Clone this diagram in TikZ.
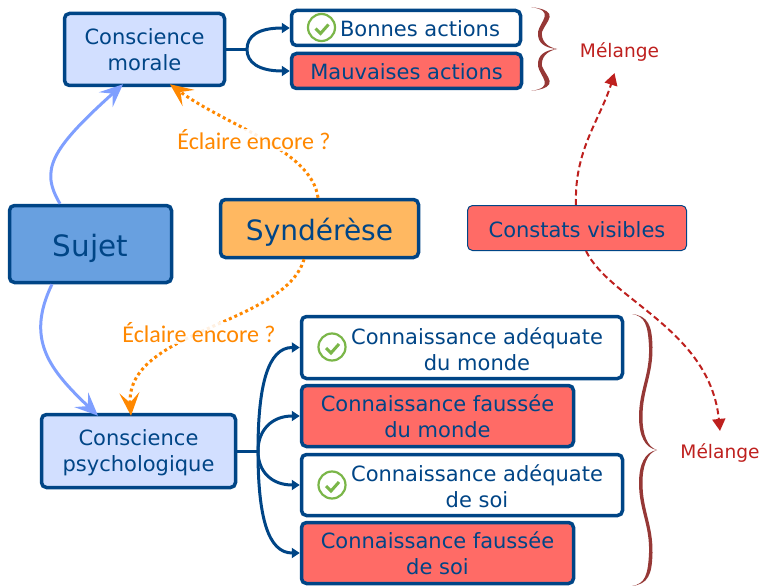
\documentclass[tikz,border=0pt]{standalone}
\usepackage{fontspec}
\setmainfont{DejaVu Sans}
\newfontfamily\eclairefont{Carlito}
\usetikzlibrary{arrows.meta}
\definecolor{bordure}{RGB}{0,69,134}
\definecolor{bleuclair}{RGB}{210,223,255}
\definecolor{bleusujet}{RGB}{104,160,224}
\definecolor{bleufleche}{RGB}{127,159,255}
\definecolor{orangebox}{RGB}{255,184,97}
\definecolor{orangeligne}{RGB}{255,136,0}
\definecolor{rouge}{RGB}{255,107,102}
\definecolor{rougeligne}{RGB}{190,32,30}
\definecolor{brun}{RGB}{150,56,54}
\definecolor{vert}{RGB}{122,182,72}
\newcommand{\deuxlignes}[2]{\hspace*{30pt}\begin{tabular}{@{}c@{}}#1\\#2\end{tabular}}
\tikzset{
  boite/.style={draw=bordure,line width=3.5pt,rounded corners=5pt,text=bordure,font=\fontsize{21}{26}\selectfont,inner sep=0pt},
  uneligne/.style={text height=18pt,text depth=0pt},
  deuxcentre/.style={align=center,text depth=-2pt},
  lien/.style={draw=bordure,line width=3pt},
  lienfin/.style={lien,-{Triangle[length=8pt,width=10pt]}},
  sujetfleche/.style={draw=bleufleche,line width=3pt,-{Stealth[length=23pt,width=20pt,inset=9pt]}},
  eclaire/.style={draw=orangeligne,line width=3pt,dash pattern=on 3pt off 3pt,-{Stealth[length=23pt,width=20pt,inset=10pt]}},
  eclairetexte/.style={text=orangeligne,font=\eclairefont\fontsize{24}{28}\selectfont,fill=white,fill opacity=.88,text opacity=1,inner sep=1pt},
  melange/.style={draw=rougeligne,line width=2pt,dash pattern=on 6pt off 3.5pt,-{Triangle[length=12pt,width=13pt]}},
  melangetexte/.style={text=rougeligne,font=\fontsize{18.6}{22}\selectfont,inner sep=0pt},
  accolade/.style={fill=brun},
  okmark/.style={circle,draw=vert,line width=2.2pt,fill=white,minimum size=27pt,inner sep=0pt,
    path picture={\draw[vert,line width=3pt] ([shift={(-6pt,-1pt)}]path picture bounding box.center) -- ++(5pt,-5pt) -- ++(8pt,9pt);}}
}
\begin{document}
\begin{tikzpicture}[x=1pt,y=1pt,yscale=-1,xscale=1]
\useasboundingbox (0,0) rectangle (761,586);

% Boxes
\node [boite,deuxcentre,text depth=-4pt,fill=bleuclair,minimum width=160pt,minimum height=72pt] (morale) at (144.5,49.5) {Conscience\\morale};
\node [boite,uneligne,fill=white,minimum width=229pt,minimum height=35pt] (bonnes) at (406,28) {\hspace*{28pt}Bonnes actions};
\node [boite,uneligne,fill=rouge,minimum width=230pt,minimum height=35pt] (mauvaises) at (406.5,71) {Mauvaises actions};
\node [boite,fill=bleusujet,minimum width=162pt,minimum height=77pt,font=\fontsize{29.4}{34}\selectfont,text height=24pt,text depth=0pt] (sujet) at (90.5,244) {Sujet};
\node [boite,fill=orangebox,minimum width=198pt,minimum height=58pt,font=\fontsize{28}{34}\selectfont,text height=23pt,text depth=0pt] (synderese) at (319.5,228.5) {Syndérèse};
\node [boite,uneligne,fill=rouge,line width=1pt,minimum width=219pt,minimum height=45pt] (constats) at (577,228) {Constats visibles};
\node [boite,deuxcentre,text depth=-4pt,fill=bleuclair,minimum width=194pt,minimum height=73pt] (psycho) at (138.5,451) {Conscience\\psychologique};
\node [boite,text depth=12pt,fill=white,minimum width=321pt,minimum height=62pt] (monde) at (462,347.5) {\deuxlignes{Connaissance adéquate}{du monde}};
\node [boite,deuxcentre,fill=rouge,minimum width=272pt,minimum height=61pt] (faussemonde) at (437.5,416) {Connaissance faussée\\du monde};
\node [boite,text depth=12pt,fill=white,minimum width=321pt,minimum height=61pt] (soi) at (462,485) {\deuxlignes{Connaissance adéquate}{de soi}};
\node [boite,deuxcentre,fill=rouge,minimum width=272pt,minimum height=61pt] (faussesoi) at (437.5,553) {Connaissance faussée\\de soi};

% Check marks
\node [okmark] (okbonnes) at (321.5,27.5) {};
\node [okmark] (okmonde) at (332,347) {};
\node [okmark] (oksoi) at (332,485) {};

% Forks
\coordinate (fourchemorale) at (247,49.5);
\coordinate (fourchepsycho) at (258,451);
\draw [lien] (morale.east) -- (fourchemorale);
\draw [lienfin] (fourchemorale) .. controls (247,36) and (258,28) .. (bonnes.west);
\draw [lienfin] (fourchemorale) .. controls (247,62) and (258,71) .. (mauvaises.west);
\draw [lien] (psycho.east) -- (fourchepsycho);
\draw [lienfin] (fourchepsycho) .. controls (258,385) and (268,347.5) .. (monde.west);
\draw [lienfin] (fourchepsycho) .. controls (258,430) and (272,416) .. (faussemonde.west);
\draw [lienfin] (fourchepsycho) .. controls (258,472) and (272,485) .. (soi.west);
\draw [lienfin] (fourchepsycho) .. controls (258,517) and (268,553) .. (faussesoi.west);

% Subject arrows
\draw [sujetfleche] ([xshift=-30.5pt]sujet.north) .. controls (40,170) and (50,150) .. ([shift={(-21.5pt,-3pt)}]morale.south);
\draw [sujetfleche] ([xshift=-38.5pt]sujet.south) .. controls (25,340) and (50,370) .. ([shift={(-40.5pt,3pt)}]psycho.north);

% Dotted arrows
\draw [eclaire] ([xshift=-1.5pt]synderese.north) .. controls (312,150) and (225,125) .. ([shift={(25.5pt,-3pt)}]morale.south);
\draw [eclaire] ([xshift=-15.5pt]synderese.south) .. controls (285,325) and (125,330) .. ([shift={(-7.5pt,3pt)}]psycho.north);
\node [eclairetexte] (eclairehaut) at (254,140) {Éclaire encore ?};
\node [eclairetexte] (eclairebas) at (199,333) {Éclaire encore ?};

% Dashed arrows
\node [melangetexte] (melangehaut) at (619.5,51.5) {Mélange};
\node [melangetexte] (melangebas) at (720,452.5) {Mélange};
\draw [melange] ([xshift=-1pt]constats.north) .. controls (574,150) and (600,120) .. ([shift={(-5pt,12pt)}]melangehaut.south);
\draw [melange] ([xshift=9pt]constats.south) .. controls (610,300) and (710,330) .. ([yshift=-12pt]melangebas.north);

% Braces
\foreach \s in {1,-1} {
\fill [accolade,shift={(0,49)},yscale=\s] (557,0) .. controls (545,-1) and (537,-6) .. (538,-17) .. controls (540,-28) and (556,-38) .. (531,-42) .. controls (562,-38) and (546,-28) .. (542,-17) .. controls (541,-8) and (547,-2) .. (557,0) -- cycle;
\fill [accolade,shift={(0,450)},yscale=\s] (657,0) .. controls (645,-2) and (639,-14) .. (639,-33) .. controls (639,-60) and (650,-75) .. (649,-103) .. controls (648,-125) and (645,-134) .. (632,-136) .. controls (648,-134) and (652,-125) .. (652.5,-103) .. controls (653,-75) and (642.5,-60) .. (642.5,-33) .. controls (642.5,-16) and (647,-3) .. (657,0) -- cycle;
}

\end{tikzpicture}
\end{document}
